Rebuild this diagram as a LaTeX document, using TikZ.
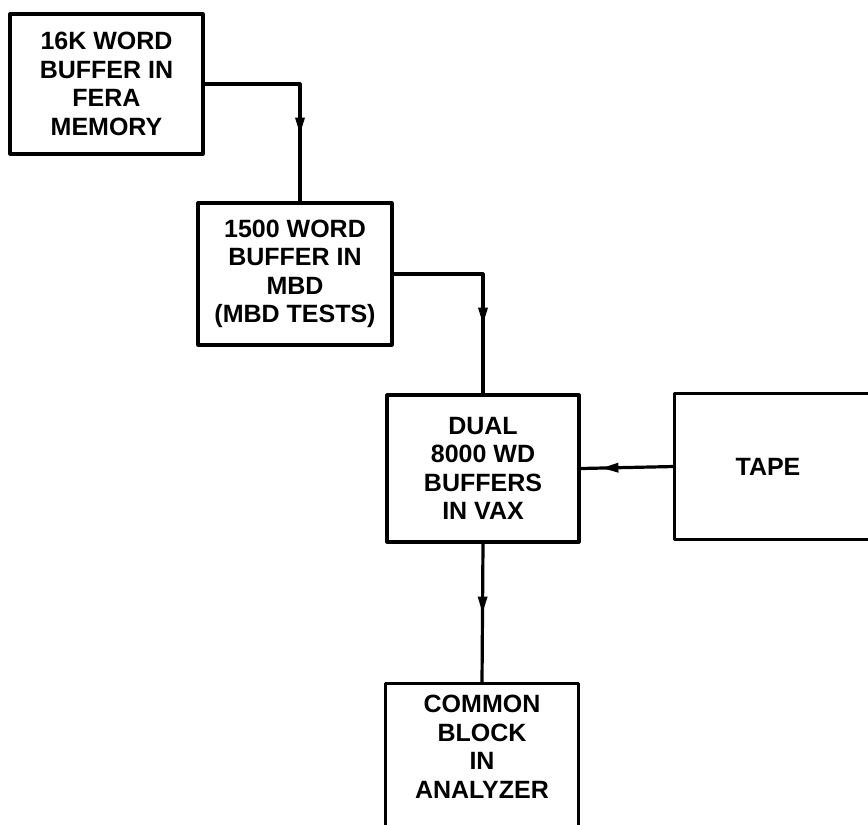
\documentclass[tikz,border=0pt]{standalone}
\usepackage{fontspec}
\setmainfont{Liberation Sans}
\usetikzlibrary{arrows.meta,decorations.markings}
\begin{document}
\begin{tikzpicture}[x=1pt,y=-1pt,line join=round]
\useasboundingbox (0,0) rectangle (868,825);
\tikzset{
  blk/.style={line width=3.2pt, align=center, inner sep=0pt,
    font=\fontsize{25}{28.5}\selectfont\bfseries},
  conn/.style={line width=3.2pt},
  midarrow/.style={postaction={decorate}, decoration={markings,
    mark=at position #1 with {\fill (2,0) -- (-14,5) -- (-14,-5) -- cycle;}}}
}
\node[blk, draw, minimum width=193pt, minimum height=140pt] (b1) at (106.5,84)
  {16K WORD\\BUFFER IN\\FERA\\MEMORY};
\node[blk, draw, minimum width=194pt, minimum height=142pt] (b2) at (295,274)
  {1500 WORD\\BUFFER IN\\MBD\\(MBD TESTS)};
\node[blk, draw, minimum width=192pt, minimum height=147pt] (b3) at (483,468.5)
  {DUAL\\8000 WD\\BUFFERS\\IN VAX};
\node[blk, minimum width=184pt, minimum height=143pt] (tape) at (768,466.5) {TAPE};
\draw[conn] ([xshift=40pt]tape.north east) -- (tape.north west) -- (tape.south west) -- ([xshift=40pt]tape.south east);
\node[blk, minimum width=190pt, minimum height=124pt] (b4) at (482,747)
  {COMMON\\BLOCK\\IN\\ANALYZER};
\draw[conn] ([yshift=-40pt]b4.south west) -- (b4.north west) -- (b4.north east) -- ([yshift=-40pt]b4.south east);
\draw[conn, midarrow=143pt] (b1.east) -| ([xshift=5pt]b2.north);
\draw[conn, midarrow=137pt] (b2.east) -| (b3.north);
\draw[conn, midarrow=70pt] (tape.west) -- (b3.east);
\draw[conn, midarrow=67pt] (b3.south) -- (b4.north);
\end{tikzpicture}
\end{document}
